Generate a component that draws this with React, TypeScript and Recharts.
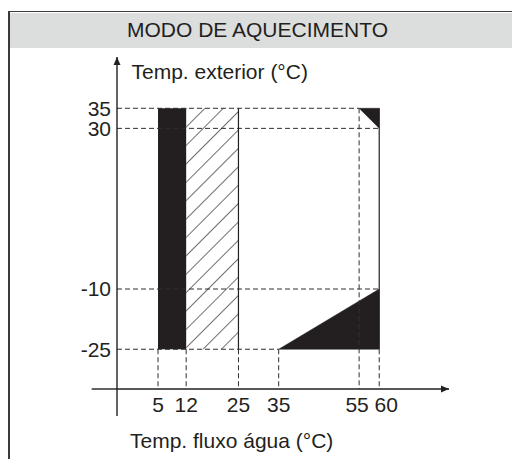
import React from "react";
import {
  ComposedChart,
  XAxis,
  YAxis,
  Area,
  ReferenceArea,
  ReferenceLine,
  ReferenceDot,
  Label,
} from "recharts";

const INK = "#231f20";
const GUIDE = "#2e2e2e";
const FONT = '"Liberation Sans", Arial, sans-serif';

// tick values on both axes
const xTicks = [5, 12, 25, 35, 55, 60];
const yTicks = [35, 30, -10, -25];

// operating zones
const solidBand = [5, 12];
const hatchBand = [12, 25];
const bandTemps = [-25, 35];
const lowCorner = [
  { x: 35, lo: -25, hi: -25 },
  { x: 60, lo: -25, hi: -10 },
];
const highCorner = [
  { x: 55, lo: 35, hi: 35 },
  { x: 60, lo: 30, hi: 35 },
];
const rightEdges = [25, 60];

// dashed guide lines
const hGuides = [
  { y: 35, to: 55 },
  { y: 30, to: 60 },
  { y: -10, to: 60 },
  { y: -25, to: 35 },
];
const vGuides = [
  { x: 5, from: -25 },
  { x: 12, from: -25 },
  { x: 25, from: -25 },
  { x: 35, from: -25 },
  { x: 55, from: 35 },
  { x: 60, from: -25 },
];

// axis extents (axes cross at xDomain[0], yDomain[0])
const xDomain = [-5.2, 77.35];
const yDomain = [-34.9, 47.77];
const xOvershoot = -11.5;
const yOvershoot = -41.6;

const tickShift: Record<number, number> = { 55: -2, 60: 7 };

const XTick = (props: any) => {
  const { x, y, payload } = props;
  return (
    <text
      x={x + (tickShift[payload.value] || 0)}
      y={y}
      dy={15}
      textAnchor="middle"
      fill={INK}
      fontSize={21}
      fontFamily={FONT}
    >
      {payload.value}
    </text>
  );
};

const HatchRect = (props: any) => {
  const { x, y, width, height } = props;
  return (
    <g>
      <defs>
        <pattern
          id="hatch"
          patternUnits="userSpaceOnUse"
          width={13}
          height={13}
          patternTransform="rotate(45)"
        >
          <line x1={0} y1={0} x2={0} y2={13} stroke={INK} strokeWidth={1.3} />
        </pattern>
      </defs>
      <rect x={x} y={y} width={width} height={height} fill="url(#hatch)" />
    </g>
  );
};

export default function App() {
  return (
    <div
      style={{
        position: "absolute",
        left: 0,
        top: 0,
        width: 512,
        height: 459,
        overflow: "hidden",
        background: "#fff",
        fontFamily: FONT,
      }}
    >
      <div
        style={{
          position: "absolute",
          left: 8,
          top: 11,
          width: 540,
          height: 480,
          borderLeft: "2px solid #3a3a3a",
          borderTop: "1.5px solid #3a3a3a",
        }}
      />
      <div
        style={{
          position: "absolute",
          left: 10,
          top: 12.5,
          width: 520,
          height: 35,
          background: "#dcdddd",
        }}
      />
      <div
        style={{
          position: "absolute",
          left: 10,
          top: 12,
          width: 495,
          height: 35,
          lineHeight: "35px",
          textAlign: "center",
          fontSize: 21,
          color: INK,
        }}
      >
        MODO DE AQUECIMENTO
      </div>
      <div style={{ position: "absolute", left: 0, top: 0 }}>
        <ComposedChart
          width={512}
          height={459}
          margin={{ top: 57, right: 63, bottom: 0, left: 0 }}
        >
          <XAxis
            type="number"
            dataKey="x"
            domain={xDomain}
            allowDataOverflow
            ticks={xTicks}
            interval={0}
            tickLine={false}
            tickSize={0}
            tickMargin={8}
            height={70}
            axisLine={{ stroke: INK, strokeWidth: 1.4 }}
            tick={<XTick />}
          >
            <Label
              content={(p: any) => (
                <text
                  x={p.viewBox.x + 13}
                  y={p.viewBox.y + 59}
                  fill={INK}
                  fontSize={21}
                  fontFamily={FONT}
                >
                  Temp. fluxo água (°C)
                </text>
              )}
            />
          </XAxis>
          <YAxis
            type="number"
            domain={yDomain}
            allowDataOverflow
            ticks={yTicks}
            interval={0}
            tickLine={false}
            tickSize={0}
            tickMargin={6}
            width={117}
            axisLine={{ stroke: INK, strokeWidth: 1.4 }}
            tick={{ fill: INK, fontSize: 21, fontFamily: FONT }}
          >
            <Label
              content={(p: any) => (
                <text
                  x={p.viewBox.x + p.viewBox.width + 14.5}
                  y={p.viewBox.y + 21.5}
                  fill={INK}
                  fontSize={21}
                  fontFamily={FONT}
                >
                  Temp. exterior (°C)
                </text>
              )}
            />
          </YAxis>

          {hGuides.map((g) => (
            <ReferenceLine
              key={`h${g.y}`}
              segment={[
                { x: xDomain[0], y: g.y },
                { x: g.to, y: g.y },
              ]}
              stroke={GUIDE}
              strokeWidth={1}
              strokeDasharray="5 3"
              ifOverflow="visible"
            />
          ))}
          {vGuides.map((g) => (
            <ReferenceLine
              key={`v${g.x}`}
              segment={[
                { x: g.x, y: g.from },
                { x: g.x, y: yDomain[0] },
              ]}
              stroke={GUIDE}
              strokeWidth={1}
              strokeDasharray="5 3"
              ifOverflow="visible"
            />
          ))}

          <ReferenceArea
            x1={hatchBand[0]}
            x2={hatchBand[1]}
            y1={bandTemps[0]}
            y2={bandTemps[1]}
            shape={<HatchRect />}
            ifOverflow="visible"
          />
          <ReferenceArea
            x1={solidBand[0]}
            x2={solidBand[1]}
            y1={bandTemps[0]}
            y2={bandTemps[1]}
            fill={INK}
            fillOpacity={1}
            stroke="none"
            ifOverflow="visible"
          />
          {rightEdges.map((x) => (
            <ReferenceLine
              key={`e${x}`}
              segment={[
                { x, y: bandTemps[0] },
                { x, y: bandTemps[1] },
              ]}
              stroke={INK}
              strokeWidth={1.2}
              ifOverflow="visible"
            />
          ))}

          <Area
            data={lowCorner}
            dataKey={(d: any) => [d.lo, d.hi]}
            type="linear"
            stroke={INK}
            strokeWidth={0.5}
            fill={INK}
            fillOpacity={1}
            dot={false}
            activeDot={false}
            isAnimationActive={false}
          />
          <Area
            data={highCorner}
            dataKey={(d: any) => [d.lo, d.hi]}
            type="linear"
            stroke={INK}
            strokeWidth={0.5}
            fill={INK}
            fillOpacity={1}
            dot={false}
            activeDot={false}
            isAnimationActive={false}
          />

          {/* axis overshoot past the origin */}
          <ReferenceLine
            segment={[
              { x: xOvershoot, y: yDomain[0] },
              { x: xDomain[0], y: yDomain[0] },
            ]}
            stroke={INK}
            strokeWidth={1.4}
            ifOverflow="visible"
          />
          <ReferenceLine
            segment={[
              { x: xDomain[0], y: yOvershoot },
              { x: xDomain[0], y: yDomain[0] },
            ]}
            stroke={INK}
            strokeWidth={1.4}
            ifOverflow="visible"
          />
          <ReferenceDot
            x={xDomain[1]}
            y={yDomain[0]}
            ifOverflow="visible"
            shape={(p: any) => (
              <polygon
                points={`${p.cx},${p.cy} ${p.cx - 8},${p.cy - 3.5} ${p.cx - 8},${p.cy + 3.5}`}
                fill={INK}
              />
            )}
          />
          <ReferenceDot
            x={xDomain[0]}
            y={yDomain[1]}
            ifOverflow="visible"
            shape={(p: any) => (
              <polygon
                points={`${p.cx},${p.cy} ${p.cx - 3.5},${p.cy + 8} ${p.cx + 3.5},${p.cy + 8}`}
                fill={INK}
              />
            )}
          />
        </ComposedChart>
      </div>
    </div>
  );
}
